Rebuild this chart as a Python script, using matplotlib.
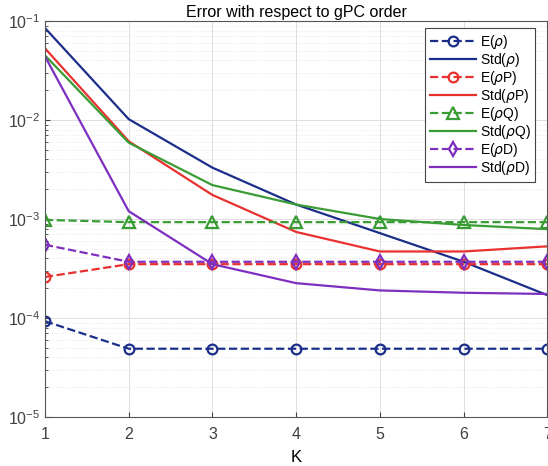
import matplotlib
matplotlib.use("Agg")
import matplotlib.pyplot as plt

plt.rcParams['font.family'] = ['Liberation Sans', 'DejaVu Sans']
plt.rcParams['mathtext.fontset'] = 'dejavusans'

K = [1, 2, 3, 4, 5, 6, 7]

# valores
e_rho = [9.3e-5, 4.9e-5, 4.9e-5, 4.9e-5, 4.9e-5, 4.9e-5, 4.9e-5]
std_rho = [0.085, 0.0102, 0.0033, 1.4e-3, 7.2e-4, 3.7e-4, 1.7e-4]
e_rhoP = [2.6e-4, 3.5e-4, 3.5e-4, 3.5e-4, 3.5e-4, 3.5e-4, 3.5e-4]
std_rhoP = [0.053, 0.0061, 0.00175, 7.4e-4, 4.7e-4, 4.7e-4, 5.3e-4]
e_rhoQ = [9.8e-4, 9.3e-4, 9.3e-4, 9.3e-4, 9.3e-4, 9.3e-4, 9.3e-4]
std_rhoQ = [0.045, 0.0059, 0.0022, 1.4e-3, 1.0e-3, 8.7e-4, 7.9e-4]
e_rhoD = [5.5e-4, 3.7e-4, 3.7e-4, 3.7e-4, 3.7e-4, 3.7e-4, 3.7e-4]
std_rhoD = [0.044, 1.2e-3, 3.5e-4, 2.25e-4, 1.9e-4, 1.8e-4, 1.75e-4]

azul = '#1b2f8a'
rojo = '#e8312f'
verde = '#3a9c34'
morado = '#7e2fbf'

fig = plt.figure(figsize=(5.48, 4.66), dpi=100)
ax = fig.add_axes([0.082, 0.105, 0.917, 0.85])

lw = 1.6
ax.semilogy(K, e_rho, '--o', color=azul, lw=lw, ms=7, mfc='none', mew=1.6, label=r'E($\rho$)')
ax.semilogy(K, std_rho, '-', color=azul, lw=lw, label=r'Std($\rho$)')
ax.semilogy(K, e_rhoP, '--o', color=rojo, lw=lw, ms=7, mfc='none', mew=1.6, label=r'E($\rho$P)')
ax.semilogy(K, std_rhoP, '-', color=rojo, lw=lw, label=r'Std($\rho$P)')
ax.semilogy(K, e_rhoQ, '--^', color=verde, lw=lw, ms=8, mfc='none', mew=1.6, label=r'E($\rho$Q)')
ax.semilogy(K, std_rhoQ, '-', color=verde, lw=lw, label=r'Std($\rho$Q)')
ax.semilogy(K, e_rhoD, '--d', color=morado, lw=lw, ms=7, mfc='none', mew=1.6, label=r'E($\rho$D)')
ax.semilogy(K, std_rhoD, '-', color=morado, lw=lw, label=r'Std($\rho$D)')

ax.set_xlim(1, 7)
ax.set_ylim(1e-5, 1e-1)
ax.set_xticks(K)
ax.set_xlabel('K', fontsize=12, labelpad=6)
ax.set_title('Error with respect to gPC order', fontsize=11.5, pad=3)

ax.grid(True, which='major', color='#dddddd', lw=0.7)
ax.grid(True, which='minor', color='#e4e4e4', lw=0.6, ls=':')
ax.tick_params(which='both', direction='in', labelsize=11.5, colors='#404040')
ax.tick_params(axis='x', pad=7)
for s in ax.spines.values():
    s.set_color('#555555')

leg = ax.legend(loc='upper right', fontsize=10, frameon=True, fancybox=False,
                edgecolor='#444444', framealpha=1, handlelength=3.3, numpoints=1,
                borderpad=0.35, labelspacing=0.0, handletextpad=0.3,
                borderaxespad=0, bbox_to_anchor=(0.976, 0.982))
leg.get_frame().set_linewidth(0.8)

fig.savefig('out.png', dpi=100)
